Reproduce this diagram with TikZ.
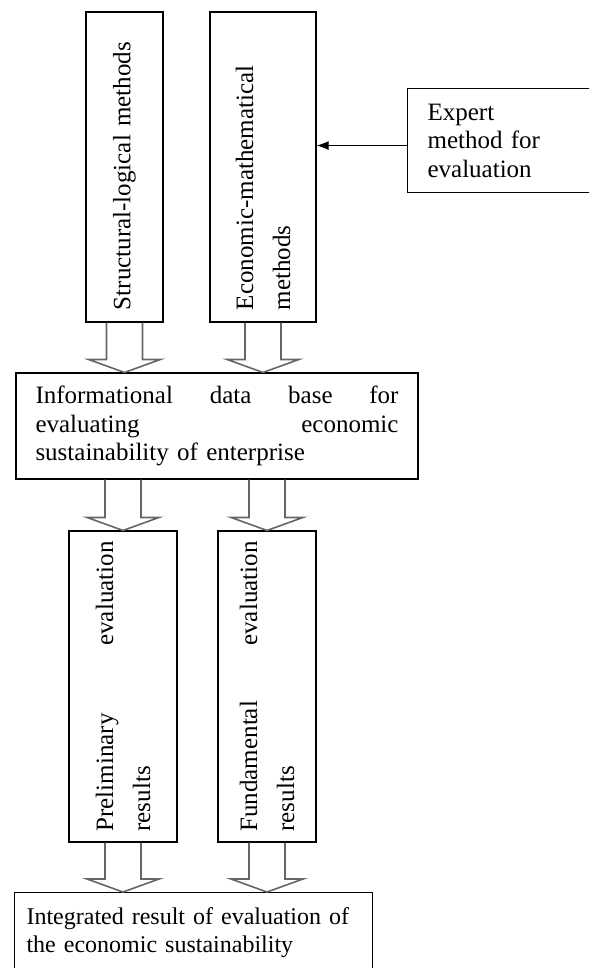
\documentclass[tikz,border=0pt]{standalone}
\usepackage{fontspec}
\setmainfont{Liberation Serif}
\usetikzlibrary{arrows.meta}
\newcommand{\blockarr}[2]{%
  \draw[hollow] ([xshift=-18pt]#1) -- ([shift={(-18pt,13pt)}]#2) -- ([shift={(-36pt,13pt)}]#2) -- (#2)
    -- ([shift={(36pt,13pt)}]#2) -- ([shift={(18pt,13pt)}]#2) -- ([xshift=18pt]#1);}
\begin{document}
\begin{tikzpicture}[x=1pt, y=1pt,
  box/.style={draw, line width=1.1pt, font=\fontsize{25}{28.5}\selectfont, align=left},
  vbox/.style={box, rotate=90, font=\fontsize{25}{37}\selectfont},
  hollow/.style={draw=black!60, line width=1.6pt}]
\useasboundingbox (0,0) rectangle (589,-968);
\clip (0,0) rectangle (589,-968);
\node[vbox, text width=286pt, inner xsep=12pt, minimum height=77pt] (sl) at (124.5,-167) {Structural-logical methods};
\node[vbox, text width=286pt, inner xsep=12pt, minimum height=106pt] (em) at (263,-167) {Economic-mathematical\\methods};
\node[box, anchor=north west, text width=173pt, inner xsep=20pt, minimum height=104pt] (ex) at (407,-88) {Expert\\method for\\evaluation};
\node[box, text width=363pt, inner xsep=19.5pt, minimum height=106pt] (info) at (217,-426) {Informational\hfill data\hfill base\hfill for\\evaluating\hfill economic\\sustainability of enterprise};
\node[vbox, text width=290pt, inner xsep=10.5pt, minimum height=108pt] (pr) at (123,-686.5) {Preliminary\hfill evaluation\\results};
\node[vbox, text width=290pt, inner xsep=10.5pt, minimum height=98pt] (fu) at (267,-686.5) {Fundamental\hfill evaluation\\results};
\node[box, anchor=north west, text width=334pt, inner xsep=12pt, inner ysep=15pt, font=\fontsize{24}{28.5}\selectfont] (res) at (14,-892) {Integrated result of evaluation of\\the economic sustainability};
\draw[-{Latex[length=12pt,width=9pt]}, line width=1.1pt] ([yshift=-5pt]ex.west) -- ([yshift=-5pt]ex.west -| em.south);
\coordinate (a1) at (sl.west |- info.north);
\coordinate (a2) at (em.west |- info.north);
\coordinate (b1) at (pr.east |- info.south);
\coordinate (b2) at (fu.east |- info.south);
\coordinate (c1) at (pr.west |- res.north);
\coordinate (c2) at (fu.west |- res.north);
\blockarr{sl.west}{a1}
\blockarr{em.west}{a2}
\blockarr{b1}{pr.east}
\blockarr{b2}{fu.east}
\blockarr{pr.west}{c1}
\blockarr{fu.west}{c2}
\end{tikzpicture}
\end{document}
